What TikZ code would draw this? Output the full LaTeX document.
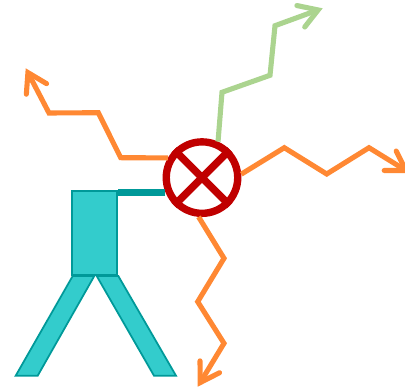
\documentclass[tikz,border=0pt]{standalone}
\usepackage{xcolor}
\usetikzlibrary{arrows.meta,positioning,calc}
\definecolor{tealfill}{HTML}{33CCCC}
\definecolor{tealline}{HTML}{009999}
\definecolor{flame}{HTML}{FF8833}
\definecolor{leaf}{HTML}{ABD48F}
\definecolor{blood}{HTML}{C00000}
\tikzset{
  flow/.style={line width=2.9pt,line join=miter,-{Straight Barb[length=10.5pt,width=13pt,line cap=round,line join=miter]}},
  part/.style={draw=tealline,fill=tealfill,line width=1pt,line join=miter},
  mixer/.style={circle,draw=blood,fill=white,line width=4.2pt,minimum size=1.43cm,inner sep=0pt},
  stroke/.style={blood,line width=4.2pt}
}
\begin{document}
\begin{tikzpicture}[x=.02cm,y=-.02cm]
\useasboundingbox (0,0) rectangle (405,388);
\node[mixer] (mix) at (202,177.6) {};
\draw[stroke] (mix.45)--(mix.225);
\draw[stroke] (mix.135)--(mix.315);
\node[part,minimum width=.912cm,minimum height=1.686cm,inner sep=0pt] (body) at (94.5,232.9) {};
\draw[part] (72.7,276)--(94.3,276)--(37.7,375.7)--(15.7,375.7)--cycle;
\draw[part] (96.7,276)--(118.3,276)--(176,375.7)--(154,375.7)--cycle;
\draw[tealline,line width=4.4pt] (mix.202)--(mix.202-|body.east);
\draw[flow,flame] (mix.150)--(120.7,157.7)--(98.3,112.7)--(49,113)--(25.7,68.3);
\draw[flow,leaf] (mix.66)--(222,92.3)--(270,75.3)--(275,25.7)--(322.7,8.3);
\draw[flow,flame] (mix.5)--(284.3,147.7)--(326.7,174)--(369,147.7)--(410,173);
\draw[flow,flame] (mix.265)--(224,258.3)--(197.7,301.7)--(224,343.3)--(197.7,386.7);
\end{tikzpicture}
\end{document}
